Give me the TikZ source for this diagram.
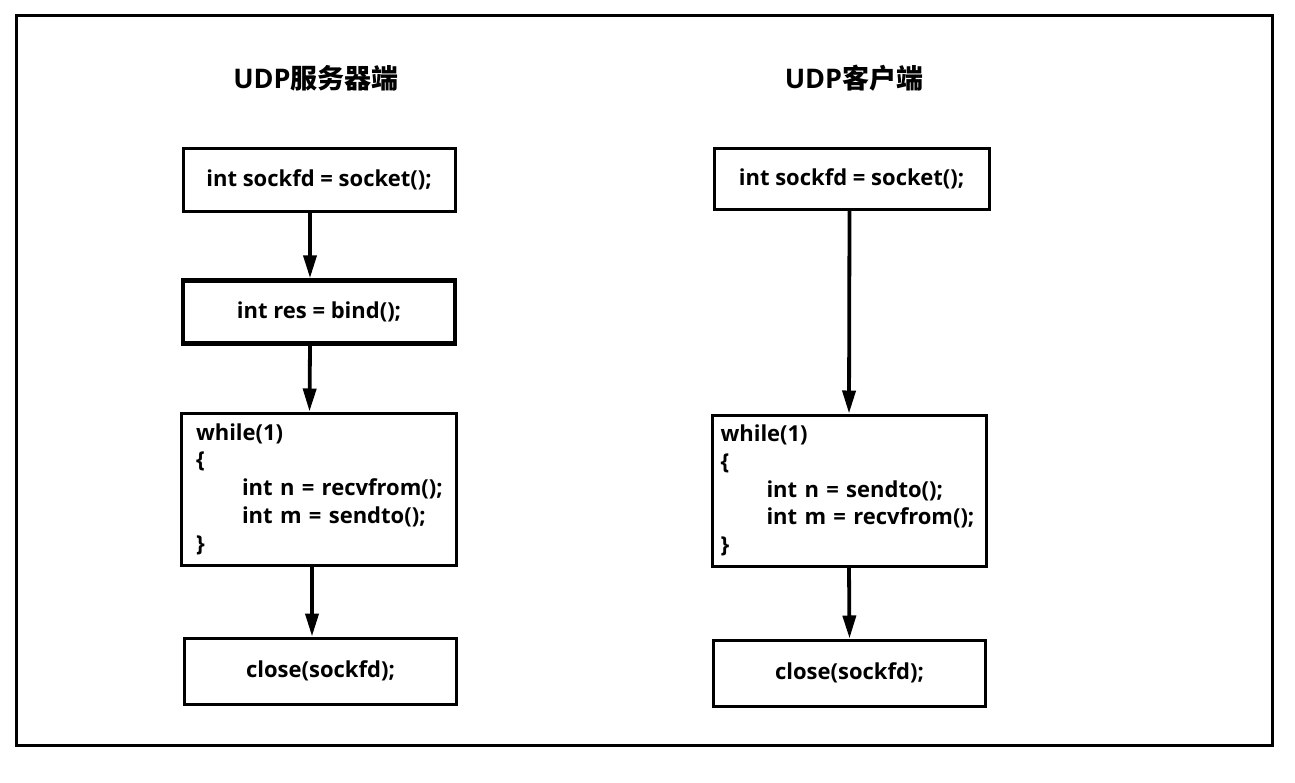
\documentclass[tikz,border=0pt]{standalone}
\usepackage{fontspec}
\usepackage{tikz}
\usetikzlibrary{arrows.meta}
\setmainfont{Open Sans}
\newfontfamily\cjk{Noto Sans CJK SC}

\begin{document}
\begin{tikzpicture}[x=1pt,y=-1pt,
  box/.style={draw,line width=3pt,minimum width=272pt,minimum height=63pt,
    font=\fontsize{22}{27.8}\selectfont\bfseries},
  loopbox/.style={box,minimum width=275pt,minimum height=152pt,
    inner xsep=15pt,text width=245pt,align=left},
  title/.style={font=\fontsize{27}{30}\selectfont\bfseries},
  arrow/.style={-{Triangle[length=23pt,width=13pt]},line width=3.8pt}]
  \useasboundingbox (0,0) rectangle (1295,782);
  \draw[line width=3pt] (16,15) rectangle (1272,745);

  \node[title] (tserver) at (316,78) {UDP{\cjk\bfseries 服务器端}};
  \node[title] (tclient) at (854,78) {UDP{\cjk\bfseries 客户端}};

  % server side
  \node[box] (s1) at (319,180) {int sockfd = socket();};
  \node[box,line width=4.5pt] (s2) at (319,312) {int res = bind();};
  \node[loopbox] (s3) at (318.5,489) {while(1)\\
    \{\\
    \mbox{\hspace*{46pt}int n = recvfrom();}\\
    \mbox{\hspace*{46pt}int m = sendto();}\\
    \}};
  \node[box,minimum height=66pt] (s4) at (320.5,671) {close(sockfd);};

  % client side
  \node[box,minimum width=275pt,minimum height=61pt] (c1) at (851.5,178.5) {int sockfd = socket();};
  \node[loopbox,minimum width=274pt,minimum height=151pt,inner xsep=8.5pt,text width=257pt] (c3) at (849,490.5) {while(1)\\
    \{\\
    \mbox{\hspace*{46pt}int n = sendto();}\\
    \mbox{\hspace*{46pt}int m = recvfrom();}\\
    \}};
  \node[box,minimum height=66pt] (c4) at (849.5,673) {close(sockfd);};

  \draw[arrow] ([xshift=-9pt]s1.south) -- ([xshift=-9pt]s2.north);
  \draw[arrow] ([xshift=-9pt]s2.south) -- ([xshift=-9pt]s3.north);
  \draw[arrow] ([xshift=-6.5pt]s3.south) -- ([xshift=-8.5pt]s4.north);
  \draw[arrow] ([xshift=-2pt]c1.south) -- (c3.north);
  \draw[arrow] (c3.south) -- (c4.north);
\end{tikzpicture}
\end{document}
